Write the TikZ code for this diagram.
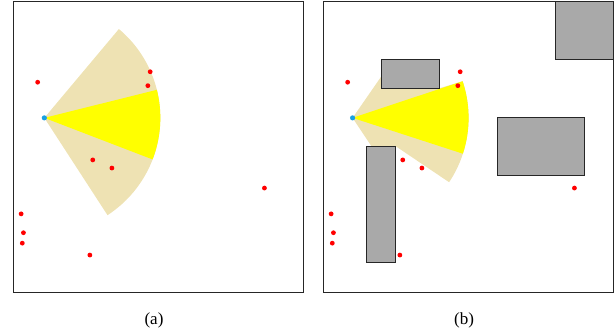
\documentclass[tikz,border=0pt]{standalone}
\usepackage{fontspec}
\setmainfont{Liberation Serif}
\usetikzlibrary{calc}
\definecolor{fovtan}{RGB}{238,226,179}
\definecolor{beamyellow}{RGB}{255,255,0}
\definecolor{robotblue}{RGB}{25,160,225}
\definecolor{obstgray}{RGB}{169,169,169}
\definecolor{targetred}{RGB}{255,0,0}

\begin{document}
\begin{tikzpicture}[
    panel/.style={draw=black!85, line width=0.9pt},
    fov/.style={fill=fovtan},
    beam/.style={fill=beamyellow},
    obst/.style={fill=obstgray, draw=black!85, line width=0.9pt},
    target/.style={fill=targetred},
    robot/.style={fill=robotblue},
    caption/.style={font=\fontsize{17}{20}\selectfont},
]
\useasboundingbox (0pt,0pt) rectangle (616pt,-331pt);

% Panel (a): no obstacles
\begin{scope}[shift={(13.3pt,-1.3pt)}, x=29pt, y=-29pt]
  \coordinate (ra) at (1.07,4.02);
  \fill[fov] (ra) -- ++(-50:4) arc[start angle=-50, end angle=57, radius=4] -- cycle;
  \fill[beam] (ra) -- ++(-14:4) arc[start angle=-14, end angle=21, radius=4] -- cycle;
  \draw[panel] (0,0) rectangle (10,10.03);
  \foreach \x/\y in {0.84/2.79, 4.72/2.43, 4.64/2.91, 2.74/5.47, 3.40/5.75,
                     8.66/6.44, 0.27/7.33, 0.35/7.98, 0.31/8.34, 2.64/8.75}
    \fill[target] (\x,\y) circle (2.4pt);
  \fill[robot] (ra) circle (2.6pt);
\end{scope}
\node[caption] (capa) at (154pt,-320pt) {(a)};

% Panel (b): same scene with obstacles
\begin{scope}[shift={(323.3pt,-1.3pt)}, x=29pt, y=-29pt]
  \coordinate (rb) at (1.01,4.02);
  % visible part of the field of view
  \fill[fov] (rb) -- (2,{4.02-1.43}) -- (2,3) -- (4,3) -- ($(rb)+(-18.43:4)$)
    arc[start angle=-18.43, end angle=33.69, radius=4] -- (2.5,5) -- (1.66,5) -- cycle;
  \fill[beam] (rb) -- ++(-18.43:4) arc[start angle=-18.43, end angle=18, radius=4] -- cycle;
  % obstacles
  \draw[obst] (8,0) rectangle (10,2);
  \draw[obst] (2,2) rectangle (4,3);
  \draw[obst] (6,4) rectangle (9,6);
  \draw[obst] (1.5,5) rectangle (2.5,9);
  \draw[panel] (0,0) rectangle (10,10.03);
  \foreach \x/\y in {0.84/2.79, 4.72/2.43, 4.64/2.91, 2.74/5.47, 3.40/5.75,
                     8.66/6.44, 0.27/7.33, 0.35/7.98, 0.31/8.34, 2.64/8.75}
    \fill[target] (\x,\y) circle (2.4pt);
  \fill[robot] (rb) circle (2.6pt);
\end{scope}
\node[caption] (capb) at (464pt,-320pt) {(b)};

\end{tikzpicture}
\end{document}
